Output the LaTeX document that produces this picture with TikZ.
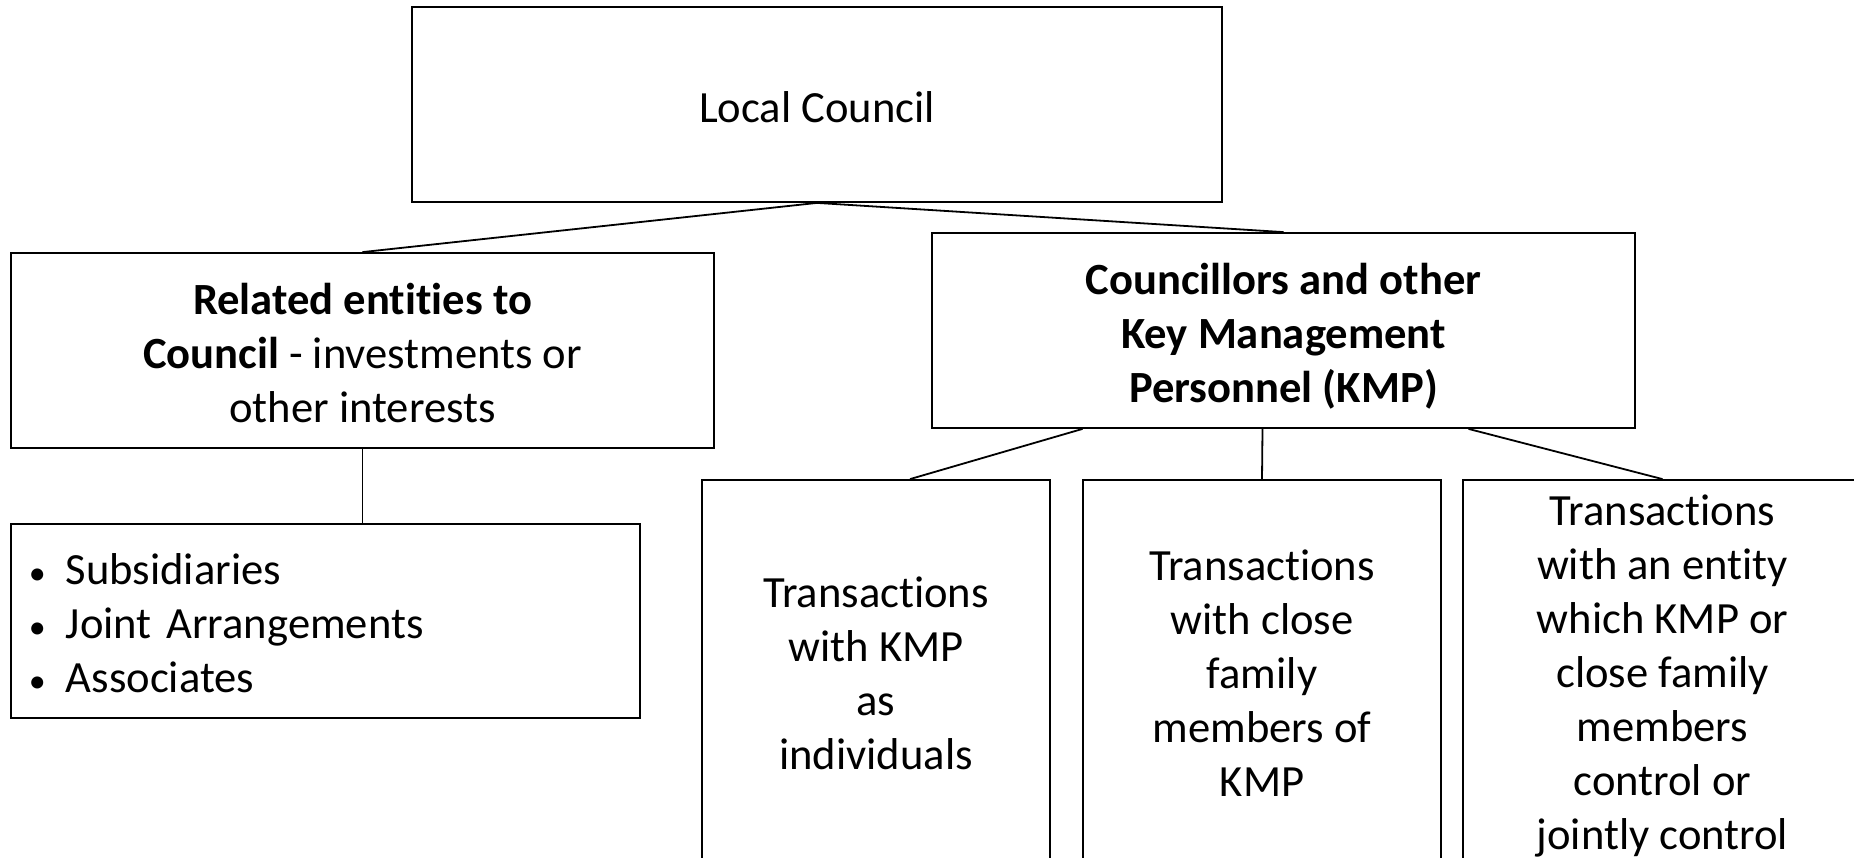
\documentclass[tikz,border=0pt]{standalone}
\usepackage{fontspec}
\setmainfont[Ligatures=NoCommon]{Carlito}
\newcommand{\bul}{\makebox[37pt][l]{\fontsize{34}{0}\selectfont •}}
\begin{document}
\begin{tikzpicture}[x=1pt,y=-1pt,
  box/.style={draw=black,line width=1.8pt,inner sep=0pt},
  txt/.style={inner sep=0pt,align=center,font=\fontsize{44.6}{54.1}\selectfont},
  link/.style={draw=black,line width=1.8pt}]
\useasboundingbox (0,0) rectangle (1854,857);
\clip (0,0) rectangle (1854,857);
\fill[white] (0,0) rectangle (1854,857);
% boxes
\node[box,minimum width=810pt,minimum height=195pt] (lc) at (817,104.5) {};
\node[box,minimum width=703pt,minimum height=195pt] (rel) at (362.5,350.5) {};
\node[box,minimum width=703pt,minimum height=195pt] (coun) at (1283.5,330.5) {};
\node[box,minimum width=629pt,minimum height=194pt] (bul) at (325.5,621) {};
\node[box,minimum width=348pt,minimum height=386pt] (ta) at (876,673) {};
\node[box,minimum width=358pt,minimum height=386pt] (tb) at (1262,673) {};
\node[box,minimum width=399pt,minimum height=386pt] (tc) at (1662.5,673) {};
% texts
\node[txt] (lct) at ([yshift=-2.5pt]lc.center) {Local Council};
\node[txt] (relt) at ([yshift=-2.5pt]rel.center)
  {\textbf{Related entities to}\\\textbf{Council} - investments or\\other interests};
\node[txt] (count) at ([yshift=-6pt]coun.center)
  {\textbf{Councillors and other}\\\textbf{Key Management}\\\textbf{Personnel (KMP)}};
\node[txt,align=left,anchor=west,text width=595pt] (bult) at ([xshift=18.5pt,yshift=-2.5pt]bul.west)
  {\bul\mbox{Subsidiaries}\\\bul\mbox{Joint Arrangements}\\\bul\mbox{Associates}};
\node[txt] (tat) at (ta.center) {Transactions\\with KMP\\as\\individuals};
\node[txt] (tbt) at (tb.center) {Transactions\\with close\\family\\members of\\KMP};
\node[txt] (tct) at ([yshift=-3pt]tc.center)
  {Transactions\\with an entity\\which KMP or\\close family\\members\\control or\\jointly control};
% connectors
\draw[link] (lc.south) -- (rel.north);
\draw[link] (lc.south) -- (coun.north);
\draw[link] (rel.south) -- (rel.south |- bul.north);
\draw[link] ([xshift=-201pt]coun.south) -- ([xshift=34pt]ta.north);
\draw[link] ([xshift=-21pt]coun.south) -- (tb.north);
\draw[link] ([xshift=185pt]coun.south) -- (tc.north);
\end{tikzpicture}
\end{document}
